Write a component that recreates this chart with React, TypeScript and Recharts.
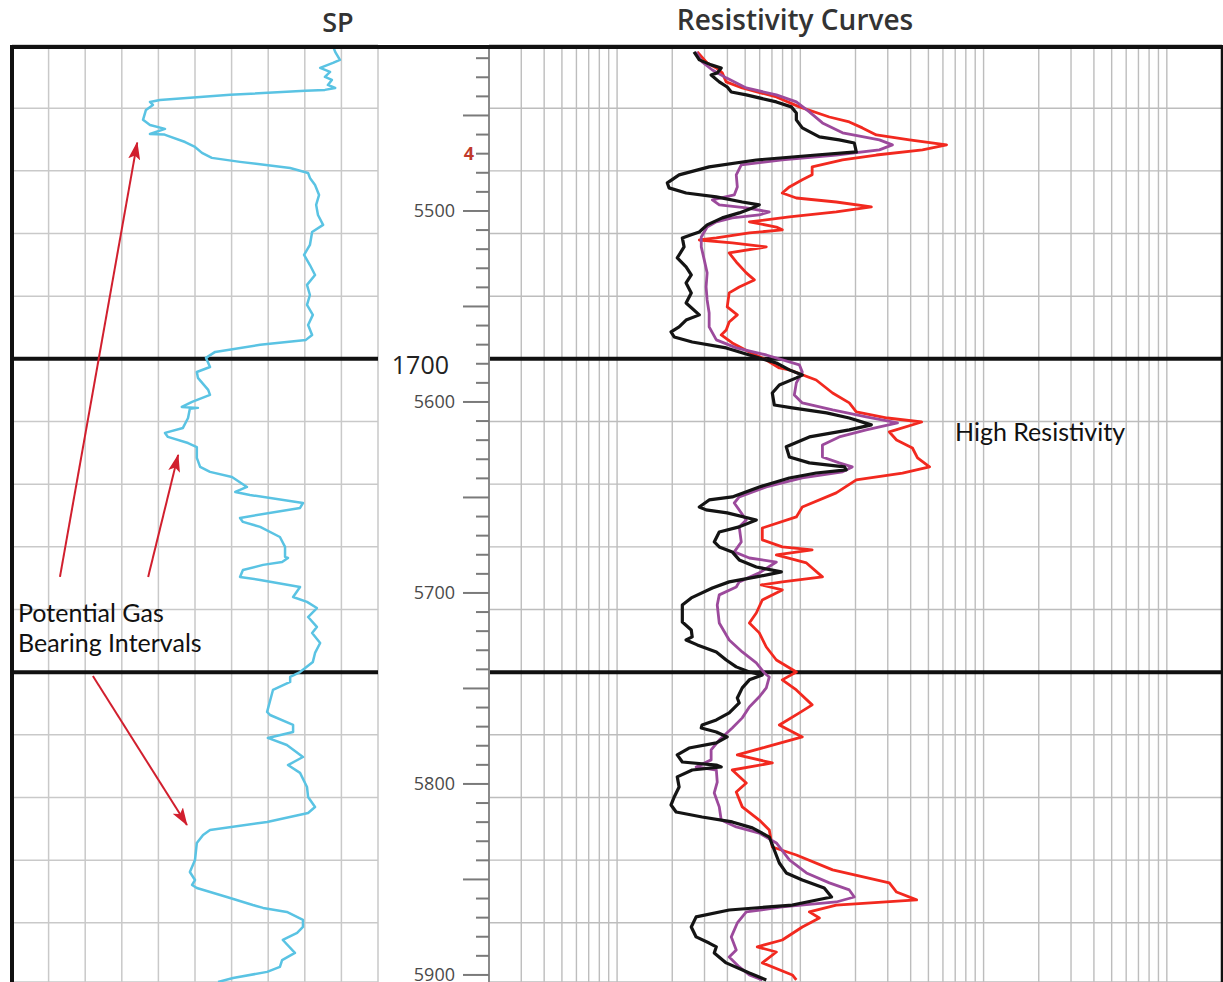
import { LineChart, Line, XAxis, YAxis, CartesianGrid, ReferenceLine } from 'recharts';

// depth in feet, SP in % of track width, resistivity in ohm-m
const FT_PER_M = 1 / 0.3048;
const DEPTH_TOP = 5413.1;
const DEPTH_BOTTOM = 5903.7;

const depthTicks = [
  5420, 5430, 5440, 5450, 5460, 5470, 5480, 5490, 5500, 5510, 5520, 5530, 5540, 5550, 5560, 5570, 5580, 5590,
  5600, 5610, 5620, 5630, 5640, 5650, 5660, 5670, 5680, 5690, 5700, 5710, 5720, 5730, 5740, 5750, 5760, 5770,
  5780, 5790, 5800, 5810, 5820, 5830, 5840, 5850, 5860, 5870, 5880, 5890, 5900,
];
const depthLabels = [5500, 5600, 5700, 5800, 5900];
const redMarks = [{ depth: 5470, text: '4' }];
const metreLines = [1650, 1660, 1670, 1680, 1690, 1700, 1710, 1720, 1730, 1740, 1750, 1760, 1770, 1780, 1790];
const heavyMetres = [1700, 1750];
const spTicks = [0, 10, 20, 30, 40, 50, 60, 70, 80, 90, 100];
const resTicks = [
  0.2, 0.3, 0.4, 0.5, 0.6, 0.7, 0.8, 0.9, 1, 2, 3, 4, 5, 6, 7, 8, 9, 10, 20, 30, 40, 50, 60, 70, 80, 90,
  100, 200, 300, 400, 500, 600, 700, 800, 900, 1000, 2000,
];

const spCurve: [number, number][] = [
  [5413.6, 87.7], [5416.7, 88.3], [5420.9, 89.6], [5422.5, 87.7], [5425.1, 84.2], [5427.2, 86.9], [5429.8, 85.5],
  [5431.4, 87.4], [5434.0, 86.3], [5435.6, 88.3], [5436.6, 85.5], [5437.1, 80.1], [5439.2, 59.6], [5441.9, 40.4],
  [5442.9, 37.7], [5444.5, 38.5], [5447.1, 36.6], [5452.3, 35.8], [5455.0, 37.7], [5457.0, 41.8], [5459.7, 37.7],
  [5459.9, 41.5], [5460.7, 42.6], [5463.9, 47.3], [5466.5, 50.0], [5469.6, 51.9], [5472.2, 54.6], [5474.3, 62.3],
  [5477.5, 76.0], [5480.1, 80.9], [5482.7, 81.4], [5486.4, 82.8], [5491.6, 83.9], [5496.8, 83.1], [5502.1, 83.6],
  [5507.3, 85.0], [5511.0, 82.0], [5517.8, 81.4], [5523.0, 79.8], [5528.3, 81.4], [5533.5, 82.8], [5538.7, 80.6],
  [5544.0, 81.4], [5549.2, 80.6], [5554.4, 82.2], [5559.7, 80.9], [5564.9, 82.0], [5567.5, 80.3], [5570.1, 67.8],
  [5573.8, 55.5], [5576.9, 53.0], [5581.7, 54.1], [5584.3, 50.5], [5587.4, 50.8], [5593.7, 53.6], [5596.3, 54.1],
  [5600.0, 49.2], [5602.6, 46.4], [5603.1, 50.8], [5603.6, 48.6], [5608.4, 48.1], [5613.6, 46.7], [5616.2, 41.8],
  [5618.3, 42.6], [5621.5, 48.1], [5623.6, 50.5], [5629.3, 50.5], [5634.0, 51.4], [5636.6, 54.1], [5639.3, 60.1],
  [5644.5, 64.2], [5647.1, 61.0], [5648.7, 65.0], [5652.9, 79.5], [5655.5, 78.7], [5660.7, 62.3], [5662.8, 63.1],
  [5665.4, 67.8], [5670.7, 73.2], [5675.9, 74.6], [5681.1, 74.6], [5681.7, 75.4], [5683.8, 73.8], [5685.3, 68.6],
  [5688.0, 63.1], [5691.6, 62.3], [5693.2, 67.8], [5696.9, 78.7], [5702.1, 76.8], [5704.7, 80.6], [5707.9, 83.3],
  [5712.6, 80.9], [5717.8, 83.3], [5721.0, 82.0], [5726.2, 84.2], [5731.4, 82.8], [5736.1, 82.2], [5741.4, 78.7],
  [5744.0, 76.0], [5746.6, 76.0], [5750.8, 71.3], [5762.3, 69.7], [5763.9, 70.5], [5769.1, 76.8], [5772.8, 76.8],
  [5775.9, 69.9], [5779.6, 75.1], [5785.9, 79.5], [5790.1, 75.4], [5794.2, 78.7], [5801.6, 80.6], [5806.8, 80.9],
  [5812.1, 82.8], [5815.2, 80.9], [5819.9, 69.7], [5824.1, 54.1], [5826.7, 52.2], [5830.9, 50.5], [5839.8, 50.0],
  [5846.1, 48.6], [5850.3, 50.0], [5852.9, 49.2], [5854.5, 50.5], [5859.2, 58.7], [5863.4, 65.8], [5864.9, 68.6],
  [5867.0, 75.1], [5871.2, 79.5], [5874.9, 79.5], [5878.0, 77.9], [5881.7, 74.0], [5888.5, 77.3], [5892.2, 73.8],
  [5895.8, 73.2], [5898.4, 69.7], [5901.6, 60.4], [5903.7, 56.3],
];

// black
const resDeep: [number, number][] = [
  [5416.7, 2.63], [5420.9, 2.81], [5423.5, 3.26], [5425.1, 3.7], [5427.7, 3.52], [5428.8, 3.26], [5432.4, 3.61],
  [5435.1, 3.99], [5437.7, 4.2], [5439.2, 5.07], [5442.9, 7.4], [5445.5, 8.93], [5448.7, 9.51], [5452.3, 9.51],
  [5456.5, 10.25], [5461.2, 12.7], [5462.8, 16.3], [5464.4, 19.7], [5469.1, 20.2], [5470.7, 12.2], [5473.3, 5.75],
  [5476.9, 3.18], [5481.1, 2.18], [5485.3, 1.88], [5487.9, 1.92], [5490.6, 2.38], [5492.6, 3.48], [5495.3, 4.82],
  [5496.8, 5.97], [5498.4, 5.47], [5501.0, 4.64], [5503.6, 3.75], [5507.3, 3.1], [5511.0, 2.81], [5512.5, 2.54],
  [5514.1, 2.27], [5518.8, 2.32], [5524.6, 2.13], [5529.3, 2.38], [5533.5, 2.54], [5537.7, 2.38], [5542.9, 2.54],
  [5548.2, 2.38], [5554.4, 2.81], [5557.1, 2.38], [5560.7, 2.18], [5563.3, 1.97], [5566.0, 2.05], [5568.6, 2.57],
  [5571.7, 3.94], [5575.4, 5.27], [5579.6, 7.4], [5583.2, 8.71], [5585.9, 10.25], [5587.4, 9.51], [5591.1, 7.68],
  [5595.3, 7.03], [5601.6, 7.21], [5603.1, 9.04], [5605.7, 13.9], [5608.4, 18.5], [5612.0, 24.4], [5614.6, 18.5],
  [5618.3, 11.2], [5623.5, 8.38], [5628.8, 8.71], [5631.9, 11.2], [5634.0, 17.4], [5635.6, 17.8], [5637.2, 12.2],
  [5639.8, 8.71], [5644.5, 5.97], [5649.7, 4.25], [5651.3, 3.18], [5655.0, 2.81], [5656.5, 3.06], [5658.1, 3.99],
  [5661.8, 5.75], [5665.4, 4.64], [5668.1, 3.61], [5673.3, 3.39], [5675.9, 3.61], [5678.5, 4.25], [5682.7, 4.64],
  [5686.4, 5.75], [5689.0, 7.88], [5691.6, 5.75], [5694.2, 4.09], [5697.4, 3.31], [5702.6, 2.54], [5706.3, 2.27],
  [5715.2, 2.27], [5719.4, 2.54], [5723.0, 2.57], [5724.6, 2.38], [5727.2, 2.74], [5730.9, 3.48], [5735.1, 3.94],
  [5738.7, 4.47], [5741.4, 5.27], [5742.9, 6.2], [5745.5, 5.27], [5749.7, 4.82], [5755.0, 4.53], [5757.6, 4.64],
  [5762.8, 4.09], [5766.5, 3.48], [5769.1, 2.91], [5770.7, 2.88], [5772.8, 3.48], [5775.4, 3.99], [5778.5, 3.48],
  [5781.2, 2.47], [5784.8, 2.13], [5788.5, 2.27], [5790.1, 3.48], [5791.1, 3.7], [5792.7, 2.57], [5796.3, 2.13],
  [5801.6, 2.18], [5806.8, 2.05], [5811.0, 1.97], [5814.7, 2.1], [5817.3, 2.91], [5819.9, 4.25], [5823.0, 5.47],
  [5827.8, 6.77], [5834.6, 7.21], [5841.4, 7.68], [5846.6, 8.38], [5850.3, 10.25], [5854.5, 13.5], [5859.2, 14.8],
  [5863.4, 9.04], [5866.0, 4.09], [5869.6, 2.7], [5874.9, 2.54], [5880.1, 2.7], [5883.3, 3.18], [5885.3, 3.48],
  [5888.5, 3.39], [5893.7, 3.94], [5899.0, 5.27], [5902.6, 6.52],
];

// purple
const resMedium: [number, number][] = [
  [5416.7, 2.7], [5422.0, 2.91], [5426.2, 3.31], [5430.3, 3.94], [5435.6, 5.07], [5439.2, 7.4], [5442.9, 9.51],
  [5448.1, 11.2], [5453.9, 13.2], [5459.1, 17.0], [5462.8, 27.0], [5465.4, 31.8], [5468.0, 27.0], [5470.7, 15.7],
  [5473.3, 7.97], [5475.9, 4.76], [5481.1, 4.47], [5487.4, 4.53], [5491.6, 4.36], [5494.2, 3.31], [5496.8, 3.61],
  [5498.4, 5.07], [5500.5, 6.77], [5502.1, 5.97], [5503.6, 4.25], [5505.7, 3.48], [5508.4, 3.1], [5513.6, 2.88],
  [5518.8, 2.88], [5525.6, 2.99], [5532.4, 3.1], [5539.8, 3.06], [5546.6, 3.1], [5553.4, 3.18], [5560.7, 3.18],
  [5567.5, 3.48], [5571.7, 4.47], [5575.4, 6.52], [5580.6, 9.88], [5584.3, 10.25], [5590.0, 9.51], [5596.3, 9.27],
  [5600.5, 10.25], [5604.2, 15.0], [5607.8, 22.9], [5611.0, 33.9], [5614.6, 22.9], [5618.3, 16.3], [5622.5, 13.2],
  [5628.8, 13.2], [5631.9, 16.3], [5634.0, 19.2], [5636.6, 17.0], [5639.8, 10.25], [5644.5, 6.52], [5649.7, 4.64],
  [5652.9, 4.36], [5661.8, 5.07], [5665.4, 4.64], [5673.3, 4.76], [5678.5, 4.36], [5681.7, 5.27], [5683.8, 7.4],
  [5689.5, 5.97], [5694.2, 4.64], [5696.9, 4.47], [5701.0, 3.61], [5706.3, 3.52], [5715.7, 3.61], [5724.6, 4.09],
  [5730.9, 4.82], [5736.6, 5.75], [5741.9, 6.36], [5744.0, 6.77], [5749.7, 6.52], [5754.4, 5.97], [5759.7, 5.27],
  [5765.4, 4.82], [5770.7, 4.25], [5777.0, 3.61], [5782.2, 3.26], [5787.4, 3.26], [5791.1, 2.7], [5792.7, 3.48],
  [5799.0, 3.52], [5804.7, 3.39], [5812.0, 3.61], [5818.9, 3.7], [5822.5, 4.47], [5825.7, 5.97], [5830.9, 7.4],
  [5839.8, 8.71], [5846.6, 10.8], [5851.8, 14.4], [5855.5, 18.5], [5859.2, 19.7], [5861.8, 15.7], [5864.4, 7.97],
  [5867.0, 5.07], [5872.8, 4.53], [5880.1, 4.2], [5886.9, 4.47], [5890.6, 4.09], [5895.8, 4.64], [5900.0, 5.27],
  [5902.6, 6.2],
];

// red
const resShallow: [number, number][] = [
  [5416.7, 2.74], [5422.5, 3.1], [5425.1, 3.48], [5427.7, 3.75], [5432.4, 3.94], [5435.6, 4.82], [5440.3, 7.4],
  [5445.5, 9.88], [5450.8, 14.4], [5453.4, 18.5], [5456.5, 21.8], [5460.2, 26.0], [5462.8, 39.4], [5465.4, 62.8],
  [5468.0, 46.4], [5470.7, 26.0], [5473.3, 17.0], [5476.9, 11.6], [5481.1, 11.6], [5483.7, 10.25], [5487.4, 8.71],
  [5490.6, 7.97], [5493.2, 9.51], [5495.3, 15.7], [5497.9, 24.4], [5500.5, 15.7], [5503.1, 8.71], [5505.7, 5.27],
  [5508.4, 7.4], [5509.9, 7.97], [5511.5, 5.27], [5514.1, 3.48], [5515.2, 2.81], [5516.7, 4.25], [5518.8, 6.52],
  [5522.0, 4.09], [5526.7, 4.47], [5532.4, 5.07], [5536.1, 5.61], [5539.8, 4.64], [5542.9, 4.09], [5550.2, 3.99],
  [5554.4, 4.53], [5558.1, 4.09], [5562.3, 3.94], [5564.9, 3.7], [5569.1, 4.25], [5573.8, 5.27], [5578.0, 6.52],
  [5582.2, 7.68], [5583.2, 8.71], [5588.5, 12.2], [5595.3, 15.0], [5600.5, 18.5], [5605.2, 20.2], [5608.4, 29.9],
  [5610.5, 45.9], [5615.7, 30.6], [5619.9, 33.5], [5624.1, 40.9], [5629.3, 43.6], [5634.0, 50.7], [5637.2, 36.1],
  [5640.8, 20.2], [5647.6, 15.7], [5655.0, 10.25], [5660.2, 9.51], [5666.0, 6.2], [5672.2, 6.2], [5675.9, 7.97],
  [5677.5, 11.6], [5680.1, 7.4], [5684.3, 10.8], [5691.6, 13.2], [5694.2, 7.97], [5695.8, 6.12], [5698.4, 7.97],
  [5703.7, 6.2], [5710.5, 5.75], [5715.7, 5.27], [5720.9, 5.97], [5728.3, 6.52], [5735.1, 7.4], [5741.4, 9.51],
  [5745.5, 7.97], [5750.8, 9.51], [5758.6, 11.6], [5762.8, 9.88], [5769.1, 7.68], [5775.4, 10.25], [5780.6, 6.52],
  [5784.8, 4.53], [5789.0, 7.03], [5792.7, 4.25], [5799.5, 5.07], [5804.2, 4.47], [5812.0, 4.82], [5818.9, 5.97],
  [5824.1, 6.77], [5833.0, 7.03], [5837.2, 9.51], [5845.0, 15.0], [5851.8, 30.6], [5856.6, 33.5], [5860.7, 43.1],
  [5863.4, 15.7], [5867.0, 11.2], [5870.2, 12.7], [5874.9, 10.25], [5881.7, 7.97], [5885.3, 5.82], [5888.0, 7.4],
  [5893.7, 6.2], [5900.0, 9.04], [5902.6, 9.51],
];

// annotation arrows in SP track coordinates [sp, depth]
const gasArrows: { from: [number, number]; to: [number, number] }[] = [
  { from: [13.1, 5691.6], to: [34.2, 5464.2] },
  { from: [37.2, 5691.6], to: [45.4, 5627.7] },
  { from: [22.1, 5743.5], to: [47.8, 5821.5] },
];

const toRows = (pts: [number, number][], key: string) => pts.map(([depth, val]) => ({ depth, [key]: val }));

const spData = toRows(spCurve, 'sp');
const deepData = toRows(resDeep, 'res');
const mediumData = toRows(resMedium, 'res');
const shallowData = toRows(resShallow, 'res');
const gridDepths = metreLines.map((m) => m * FT_PER_M);

const FONT = '"Open Sans", sans-serif';
const TEXT_FONT = 'Lato, "Open Sans", sans-serif';

function DepthTick(props: any) {
  const { x, y, payload } = props;
  const v = payload.value as number;
  const long = v % 50 === 0;
  const mark = redMarks.find((m) => m.depth === v);
  return (
    <g>
      <line x1={x - (long ? 26 : 13)} x2={x} y1={y} y2={y} stroke="#7a7a7a" strokeWidth={2} />
      {depthLabels.includes(v) && (
        <text x={x - 34} y={y} dy="0.36em" textAnchor="end" fontFamily={FONT} fontSize={18} fill="#4a4a4a">
          {v}
        </text>
      )}
      {mark && (
        <text x={x - 15} y={y} dy="0.36em" textAnchor="end" fontFamily={FONT} fontSize={18} fontWeight={700} fill="#c0392b">
          {mark.text}
        </text>
      )}
    </g>
  );
}

function MetreLabel(props: any) {
  const { viewBox, value } = props;
  if (value !== 1700) return null;
  return (
    <text x={viewBox.x - 40} y={viewBox.y + 15} textAnchor="end" fontFamily={FONT} fontSize={25} fill="#222">
      1700
    </text>
  );
}

export default function App() {
  const depthDomain: [number, number] = [DEPTH_TOP, DEPTH_BOTTOM];
  return (
    <div style={{ position: 'absolute', left: 0, top: 0, width: 1223, height: 982, background: '#fff', overflow: 'hidden' }}>
      {/* SP track */}
      <div style={{ position: 'absolute', left: 0, top: 0 }}>
        <LineChart layout="vertical" width={390} height={982} margin={{ top: 45, right: 12, bottom: 0, left: 12 }}>
          <defs>
            <marker id="redHead" viewBox="0 0 18 12" markerWidth={18} markerHeight={12} refX={17} refY={6} orient="auto" markerUnits="userSpaceOnUse">
              <path d="M0,0 L18,6 L0,12 L4,6 z" fill="#d11f2e" />
            </marker>
          </defs>
          <CartesianGrid stroke="#c9c9c9" strokeWidth={1.5} />
          <XAxis type="number" dataKey="sp" domain={[0, 100]} ticks={spTicks} interval={0} allowDataOverflow hide />
          <YAxis type="number" dataKey="depth" domain={depthDomain} ticks={gridDepths} interval={0} allowDataOverflow hide />
          <ReferenceLine x={0} stroke="#111" strokeWidth={4} />
          {heavyMetres.map((m) => (
            <ReferenceLine key={m} y={m * FT_PER_M} stroke="#111" strokeWidth={4} />
          ))}
          <Line data={spData} dataKey="sp" stroke="#5ac3e3" strokeWidth={2.5} dot={false} isAnimationActive={false} strokeLinejoin="round" />
          {gasArrows.map((a, i) => (
            <ReferenceLine
              key={i}
              segment={[{ x: a.from[0], y: a.from[1] }, { x: a.to[0], y: a.to[1] }]}
              stroke="#d11f2e"
              strokeWidth={2}
              shape={(p: any) => (
                <line x1={p.x1} y1={p.y1} x2={p.x2} y2={p.y2} stroke="#d11f2e" strokeWidth={2} markerEnd="url(#redHead)" />
              )}
            />
          ))}
        </LineChart>
      </div>

      {/* Resistivity track with depth column */}
      <div style={{ position: 'absolute', left: 385, top: 0 }}>
        <LineChart layout="vertical" width={838} height={982} margin={{ top: 45, right: 1, bottom: 0, left: 0 }}>
          <CartesianGrid yAxisId="grid" stroke="#bdbdbd" strokeWidth={1.4} />
          <XAxis type="number" dataKey="res" scale="log" domain={[0.2, 2000]} ticks={resTicks} interval={0} allowDataOverflow hide />
          <YAxis
            yAxisId="depth"
            type="number"
            dataKey="depth"
            domain={depthDomain}
            ticks={depthTicks}
            interval={0}
            allowDataOverflow
            width={104}
            tickSize={0}
            tickMargin={0}
            tickLine={false}
            axisLine={{ stroke: '#8a8a8a', strokeWidth: 2 }}
            tick={<DepthTick />}
          />
          <YAxis yAxisId="grid" type="number" dataKey="depth" domain={depthDomain} ticks={gridDepths} interval={0} allowDataOverflow hide />
          <ReferenceLine yAxisId="depth" x={2000} stroke="#111" strokeWidth={2.5} />
          {heavyMetres.map((m) => (
            <ReferenceLine
              key={m}
              yAxisId="depth"
              y={m * FT_PER_M}
              stroke="#111"
              strokeWidth={4}
              label={(p: any) => <MetreLabel {...p} value={m} />}
            />
          ))}
          <Line yAxisId="depth" data={shallowData} dataKey="res" stroke="#f2291f" strokeWidth={2.8} dot={false} isAnimationActive={false} strokeLinejoin="round" />
          <Line yAxisId="depth" data={mediumData} dataKey="res" stroke="#9c4a9c" strokeWidth={2.8} dot={false} isAnimationActive={false} strokeLinejoin="round" />
          <Line yAxisId="depth" data={deepData} dataKey="res" stroke="#141414" strokeWidth={3.2} dot={false} isAnimationActive={false} strokeLinejoin="round" />
        </LineChart>
      </div>

      {/* titles, frame and notes */}
      <svg width={1223} height={982} style={{ position: 'absolute', left: 0, top: 0, pointerEvents: 'none' }}>
        <line x1={10} x2={1223} y1={47} y2={47} stroke="#111" strokeWidth={4} />
        <text x={338} y={32} textAnchor="middle" fontFamily={FONT} fontWeight={600} fontSize={27} fill="#333">
          SP
        </text>
        <text x={795} y={30} textAnchor="middle" fontFamily={FONT} fontWeight={600} fontSize={28} fill="#333">
          Resistivity Curves
        </text>
        <text x={955} y={441} fontFamily={TEXT_FONT} fontSize={25} fill="#111">
          High Resistivity
        </text>
        <text x={18} y={622} fontFamily={TEXT_FONT} fontSize={25} fill="#111">
          Potential Gas
        </text>
        <text x={18} y={652} fontFamily={TEXT_FONT} fontSize={25} fill="#111">
          Bearing Intervals
        </text>
      </svg>
    </div>
  );
}
